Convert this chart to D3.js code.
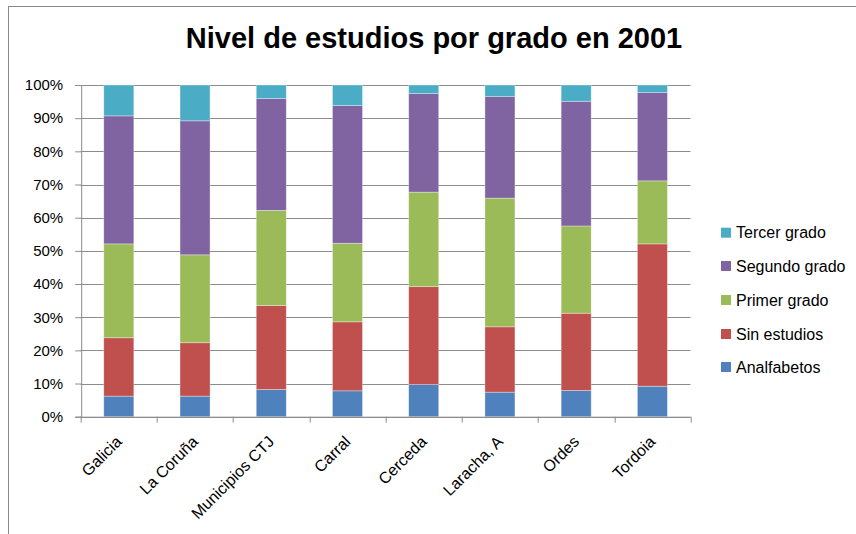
<!DOCTYPE html>
<html>
<head>
<meta charset="utf-8">
<script src="https://cdn.jsdelivr.net/npm/d3@7"></script>
<style>
  html, body { margin: 0; padding: 0; background: #fff; }
  #chart { width: 856px; height: 534px; }
  svg text { font-family: "Liberation Sans", Arial, sans-serif; fill: #000; }
</style>
</head>
<body>
<div id="chart"></div>
<script>
const categories = ["Galicia", "La Coruña", "Municipios CTJ", "Carral", "Cerceda", "Laracha, A", "Ordes", "Tordoia"];
const seriesNames = ["Analfabetos", "Sin estudios", "Primer grado", "Segundo grado", "Tercer grado"];
const colors = ["#4F81BD", "#C0504D", "#9BBB59", "#8064A2", "#4BACC6"];

// percent shares, one array per series (in category order)
const analfabetos = [6.2, 6.2, 8.2, 7.8, 9.7, 7.4, 7.9, 9.2];
const sinEstudios = [17.6, 16.1, 25.3, 20.8, 29.5, 19.7, 23.3, 42.9];
const primerGrado = [28.3, 26.5, 28.7, 23.7, 28.5, 38.8, 26.3, 19.0];
const segundoGrado = [38.6, 40.4, 33.7, 41.5, 29.7, 30.6, 37.6, 26.6];
const tercerGrado = [9.3, 10.8, 4.1, 6.2, 2.6, 3.5, 4.9, 2.3];

const yTicks = [0, 10, 20, 30, 40, 50, 60, 70, 80, 90, 100];

function draw() {
  const w = 856, h = 534;
  const margin = { top: 85, left: 80.7, right: 856 - 690.5, bottom: 534 - 416.7 };
  const innerW = w - margin.left - margin.right;
  const innerH = h - margin.top - margin.bottom;

  const values = [analfabetos, sinEstudios, primerGrado, segundoGrado, tercerGrado];
  const rows = categories.map((c, i) => {
    const r = { cat: c };
    seriesNames.forEach((s, j) => { r[s] = values[j][i]; });
    return r;
  });
  const stacked = d3.stack().keys(seriesNames).offset(d3.stackOffsetExpand)(rows);

  const svg = d3.select("#chart").append("svg")
    .attr("width", w).attr("height", h);

  // outer chart frame (only top/left edges fall inside the picture)
  svg.append("rect")
    .attr("x", 8.5).attr("y", 6.5)
    .attr("width", 900).attr("height", 600)
    .attr("fill", "none").attr("stroke", "#8a8a8a").attr("stroke-width", 1);

  svg.append("text")
    .attr("x", 434).attr("y", 48)
    .attr("text-anchor", "middle")
    .style("font-size", "29px").style("font-weight", "bold")
    .text("Nivel de estudios por grado en 2001");

  const g = svg.append("g").attr("transform", `translate(${margin.left},${margin.top})`);

  const x = d3.scaleBand().domain(categories).range([0, innerW]).paddingInner(0.606).paddingOuter(0.303);
  const xb = d3.scaleBand().domain(categories).range([0, innerW]);
  const y = d3.scaleLinear().domain([0, 1]).range([innerH, 0]);

  // gridlines
  g.append("g")
    .selectAll("line").data(yTicks).join("line")
    .attr("x1", 0).attr("x2", innerW)
    .attr("y1", d => Math.round(y(d / 100)) + 0.5).attr("y2", d => Math.round(y(d / 100)) + 0.5)
    .attr("stroke", "#8c8c8c").attr("stroke-width", 1);

  // bars
  g.append("g").selectAll("g").data(stacked).join("g")
    .attr("fill", (d, i) => colors[i])
    .selectAll("rect").data(d => d).join("rect")
    .attr("x", d => x(d.data.cat))
    .attr("width", x.bandwidth())
    .attr("y", d => y(d[1]))
    .attr("height", d => y(d[0]) - y(d[1]))
    .attr("stroke", "rgba(255,255,255,0.45)")
    .attr("stroke-width", 0.75);

  // y axis
  const yAxis = g.append("g")
    .attr("transform", "translate(0.5,0)")
    .call(d3.axisLeft(y).tickValues(yTicks.map(t => t / 100)).tickFormat(d3.format(".0%")).tickSize(6).tickPadding(12));
  yAxis.select(".domain").attr("stroke", "#8c8c8c");
  yAxis.selectAll(".tick line").attr("stroke", "#8c8c8c");
  yAxis.selectAll(".tick text").style("font-size", "15px").attr("fill", "#000");

  // x axis
  const xAxis = g.append("g").attr("transform", `translate(0,${innerH})`);
  xAxis.append("line").attr("x1", 0).attr("x2", innerW)
    .attr("y1", 0.5).attr("y2", 0.5).attr("stroke", "#8c8c8c");
  const bounds = categories.map(c => xb(c)).concat([innerW]);
  xAxis.selectAll("line.tk").data(bounds).join("line").attr("class", "tk")
    .attr("x1", d => Math.round(d) + 0.5).attr("x2", d => Math.round(d) + 0.5)
    .attr("y1", 0).attr("y2", 6).attr("stroke", "#8c8c8c");
  xAxis.selectAll("text").data(categories).join("text")
    .attr("text-anchor", "end")
    .attr("transform", d => `translate(${xb(d) + xb.bandwidth() / 2 + 4},${26}) rotate(-45)`)
    .style("font-size", "16px")
    .text(d => d);

  // legend (reverse order, top to bottom)
  const legendY = [232.7, 266, 300, 334, 367];
  const legend = svg.append("g");
  seriesNames.slice().reverse().forEach((s, i) => {
    const idx = seriesNames.length - 1 - i;
    legend.append("rect")
      .attr("x", 721).attr("y", legendY[i] - 5)
      .attr("width", 10).attr("height", 10)
      .attr("fill", colors[idx]);
    legend.append("text")
      .attr("x", 736).attr("y", legendY[i])
      .attr("dy", "0.36em")
      .style("font-size", "16px")
      .text(s);
  });
}

draw();
</script>
</body>
</html>
